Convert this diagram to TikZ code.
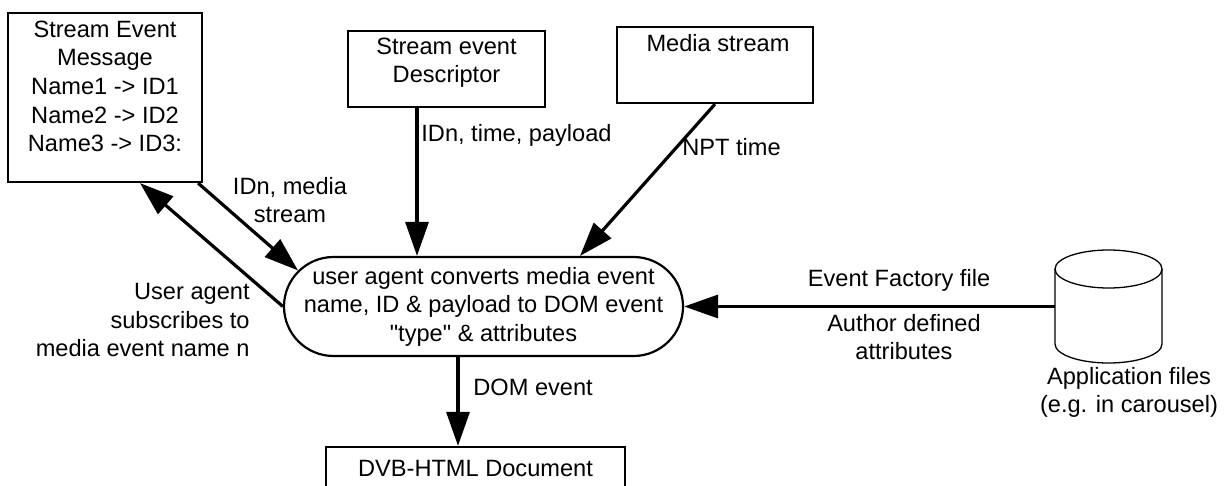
\documentclass[tikz,border=0pt]{standalone}
\usepackage{fontspec}
\setmainfont{Liberation Sans}
\usetikzlibrary{arrows.meta,shapes.misc}

\begin{document}
\begin{tikzpicture}[
	x=0.5pt, y=-0.5pt,
	every node/.style={font=\fontsize{11.8}{14.3}\selectfont, inner sep=0pt},
	box/.style={draw, line width=1.1pt},
	arr/.style={line width=1.6pt, -{Triangle[length=17pt,width=11.5pt]}},
	txt/.style={align=center}
	]
	\useasboundingbox (0,0) rectangle (1224,486);
	\clip (0,0) rectangle (1224,486);

	% boxes
	\node[box, minimum width=97pt, minimum height=84.5pt] (msg) at (105,97.5) {};
	\node[txt, anchor=north] (msgtext) at (105,20.5) {Stream Event\\Message\\Name1 -> ID1\\Name2 -> ID2\\Name3 -> ID3:};
	\node[box, minimum width=98.5pt, minimum height=38pt] (desc) at (446.5,69) {};
	\node[txt, anchor=north] (desctext) at (446.5,37.5) {Stream event\\Descriptor};
	\node[box, minimum width=98pt, minimum height=38pt] (media) at (715,65) {};
	\node[anchor=north] (mediatext) at (718,34.5) {Media stream};
	\node[draw, rounded rectangle, line width=1.1pt, minimum width=198.5pt, minimum height=49.5pt, txt] (ua) at (483.5,306.5)
		{user agent converts media event\\name, ID \& payload to DOM event\\\textquotedbl type\textquotedbl{} \& attributes};
	\node[box, minimum width=149.5pt, minimum height=21pt] (dvb) at (475.5,468) {DVB-HTML Document};

	% carousel files
	\draw[line width=0.65pt] (1055,269) -- (1055,344) arc[start angle=180, end angle=360, x radius=26.75pt, y radius=9.5pt] -- (1162,269);
	\draw[line width=0.65pt] (1108.5,269) ellipse [x radius=26.75pt, y radius=9.5pt];
	\coordinate (files) at (1055,306.5);
	\node[txt] (filestext) at (1129,392.5) {Application files\\(e.g. in carousel)};

	% connectors
	\coordinate (d1) at ([xshift=-14.75pt]desc.south);
	\draw[arr] (d1) -- (d1 |- ua.north);
	\draw[arr] (media.south) -- ([xshift=48.25pt]ua.north);
	\draw[arr] ([xshift=-2.5pt]msg.south east) -- (ua.169);
	\draw[arr] (ua.west) -- ([xshift=17.5pt]msg.south);
	\coordinate (d2) at ([xshift=-12.75pt]ua.south);
	\draw[arr] (d2) -- (d2 |- dvb.north);
	\draw[arr] (files) -- (ua.east);

	% labels
	\node[anchor=west] (lpayload) at (421,135.4) {IDn, time, payload};
	\node[anchor=west] (lnpt) at (682,147) {NPT time};
	\node[txt] (lidn) at (290,200) {IDn, media\\stream};
	\node[align=right, anchor=east] (lsub) at (250,320) {User agent\\subscribes to\\media event name n};
	\node[anchor=west] (ldom) at (473,387) {DOM event};
	\node (lfactory) at (899,280) {Event Factory file};
	\node[txt] (lauthor) at (904,337) {Author defined\\attributes};
\end{tikzpicture}
\end{document}
